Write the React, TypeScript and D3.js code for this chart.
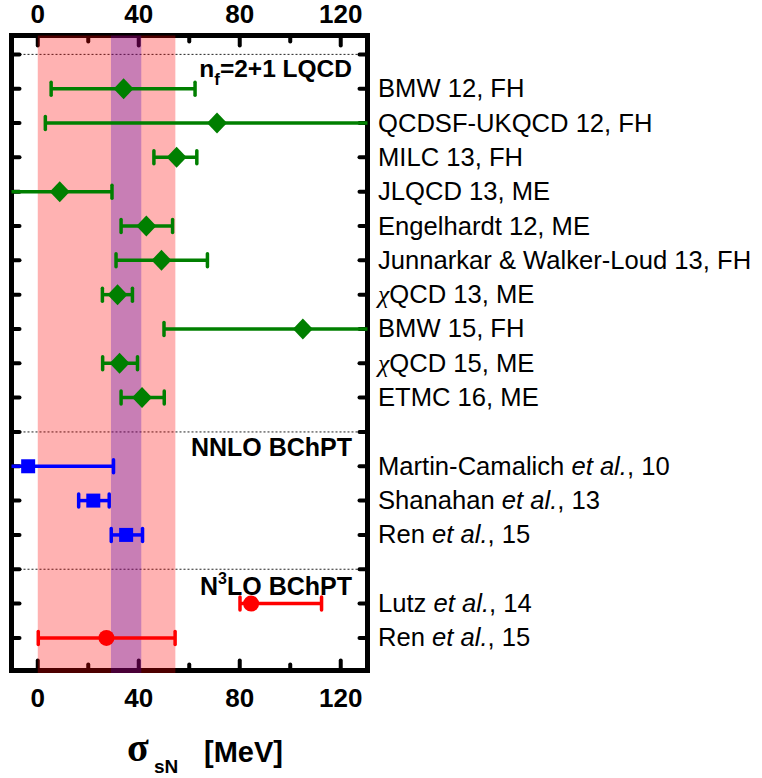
import React from "react";
import * as d3 from "d3";

// ---- data (MeV) ----
const rowLabels = [
  "BMW 12, FH",
  "QCDSF-UKQCD 12, FH",
  "MILC 13, FH",
  "JLQCD 13, ME",
  "Engelhardt 12, ME",
  "Junnarkar & Walker-Loud 13, FH",
  "χQCD 13, ME",
  "BMW 15, FH",
  "χQCD 15, ME",
  "ETMC 16, ME",
  "Martin-Camalich et al., 10",
  "Shanahan et al., 13",
  "Ren et al., 15",
  "Lutz et al., 14",
  "Ren et al., 15",
];
const rowPos = [0, 1, 2, 3, 4, 5, 6, 7, 8, 9, 11, 12, 13, 15, 16];
const centers = [34, 71, 55, 8.7, 43, 49, 31.6, 105, 32.4, 41.3, -3.8, 22, 35, 84.5, 27.2];
const lows = [5.3, 3, 46, -13, 33, 31, 25.6, 50, 25.7, 33, -38, 16.2, 29.1, 80.1, 0.2];
const highs = [62.3, 139, 63, 29.4, 53.4, 67.2, 37.5, 160, 39.5, 50.1, 30, 28.3, 41.5, 112.4, 54.4];
const groups = ["L", "L", "L", "L", "L", "L", "L", "L", "L", "L", "N", "N", "N", "N3", "N3"];

const separators = [-1, 10, 14];
const yTickPos = d3.range(-1, 17);
const xMajorTicks = [0, 40, 80, 120];
const xMinorTicks = [20, 60, 100];
const pinkBand = [0, 54.5];
const purpleBand = [29, 41];
const xDomain = [-10.4, 130.6];
const yDomain = [-1.55, 16.95];

const SANS = "'Liberation Sans', Arial, sans-serif";

const groupColor: Record<string, string> = { L: "#007f00", N: "#0000ff", N3: "#ff0000" };

function Label({ text, x, y }: { text: string; x: number; y: number }) {
  const parts: React.ReactNode[] = [];
  let rest = text;
  if (rest.startsWith("χ")) {
    parts.push(
      <tspan key="chi" fontFamily="'Liberation Serif', 'Times New Roman', serif" fontStyle="italic">
        χ
      </tspan>
    );
    rest = rest.slice(1);
  }
  const idx = rest.indexOf("et al.");
  if (idx >= 0) {
    parts.push(<tspan key="a">{rest.slice(0, idx)}</tspan>);
    parts.push(
      <tspan key="b" fontStyle="italic">
        et al.
      </tspan>
    );
    parts.push(<tspan key="c">{rest.slice(idx + 6)}</tspan>);
  } else {
    parts.push(<tspan key="d">{rest}</tspan>);
  }
  return (
    <text x={x} y={y} fontFamily={SANS} fontSize={25.6} fill="#000" style={{ whiteSpace: "pre" }}>
      {parts}
    </text>
  );
}

export default function App() {
  const W = 762;
  const H = 778;
  const x = d3.scaleLinear().domain(xDomain).range([11.5, 367.5]);
  const y = d3.scaleLinear().domain(yDomain).range([35.5, 670.5]);
  const [xl, xr] = x.range();
  const [yt, yb] = y.range();

  const diamond = (cx: number, cy: number) =>
    `M${cx},${cy - 10.5}L${cx + 10},${cy}L${cx},${cy + 10.5}L${cx - 10},${cy}Z`;

  return (
    <svg width={W} height={H} style={{ position: "absolute", left: 0, top: 0 }}>
      <rect x={0} y={0} width={W} height={H} fill="#fff" />
      {separators.map((s) => (
        <line
          key={"sep" + s}
          x1={xl}
          x2={xr}
          y1={y(s)}
          y2={y(s)}
          stroke="#222"
          strokeWidth={1}
          strokeDasharray="2,2"
        />
      ))}
      <rect x={xl} y={yt} width={xr - xl} height={yb - yt} fill="none" stroke="#000" strokeWidth={5} />
      {xMajorTicks.map((t) => (
        <g key={"xM" + t} stroke="#000" strokeWidth={4} strokeLinecap="round">
          <line x1={x(t)} x2={x(t)} y1={yt} y2={yt + 10} />
          <line x1={x(t)} x2={x(t)} y1={yb} y2={yb - 10} />
        </g>
      ))}
      {xMinorTicks.map((t) => (
        <g key={"xm" + t} stroke="#000" strokeWidth={4} strokeLinecap="round">
          <line x1={x(t)} x2={x(t)} y1={yt} y2={yt + 6} />
          <line x1={x(t)} x2={x(t)} y1={yb} y2={yb - 6} />
        </g>
      ))}
      {yTickPos.map((t) => (
        <g key={"yt" + t} stroke="#000" strokeWidth={4} strokeLinecap="round">
          <line x1={xl} x2={xl + 8} y1={y(t)} y2={y(t)} />
          <line x1={xr} x2={xr - 8} y1={y(t)} y2={y(t)} />
        </g>
      ))}
      <rect
        x={x(pinkBand[0])}
        y={yt}
        width={x(pinkBand[1]) - x(pinkBand[0])}
        height={yb + 2.5 - yt}
        fill="rgb(255,0,0)"
        fillOpacity={0.3}
      />
      <rect
        x={x(purpleBand[0])}
        y={yt}
        width={x(purpleBand[1]) - x(purpleBand[0])}
        height={yb + 2.5 - yt}
        fill="rgb(65,0,190)"
        fillOpacity={0.29}
      />
      {xMajorTicks.map((t) => (
        <g key={"xl" + t} fontFamily={SANS} fontSize={26} fontWeight="bold" textAnchor="middle">
          <text x={x(t)} y={23}>
            {t}
          </text>
          <text x={x(t)} y={707}>
            {t}
          </text>
        </g>
      ))}
      <text x={352} y={y(-1) + 22.5} fontFamily={SANS} fontSize={24.5} fontWeight="bold" textAnchor="end">
        n<tspan fontSize={17} dy={8}>f</tspan>
        <tspan dy={-8}>=2+1 LQCD</tspan>
      </text>
      <text x={352} y={y(10) + 24.5} fontFamily={SANS} fontSize={25} fontWeight="bold" textAnchor="end">
        NNLO BChPT
      </text>
      <text x={352} y={y(14) + 26} fontFamily={SANS} fontSize={25} fontWeight="bold" textAnchor="end">
        N<tspan fontSize={16} dy={-11}>3</tspan>
        <tspan dy={11}>LO BChPT</tspan>
      </text>
      {rowLabels.map((lab, i) => {
        const cy = y(rowPos[i]);
        const color = groupColor[groups[i]];
        const loC = Math.max(lows[i], xDomain[0]);
        const hiC = Math.min(highs[i], xDomain[1]);
        const cx = x(centers[i]);
        return (
          <g key={"row" + i}>
            <line x1={x(loC)} x2={x(hiC)} y1={cy} y2={cy} stroke={color} strokeWidth={3.5} />
            {lows[i] >= xDomain[0] && (
              <line
                x1={x(lows[i])}
                x2={x(lows[i])}
                y1={cy - 6.5}
                y2={cy + 6.5}
                stroke={color}
                strokeWidth={3.5}
                strokeLinecap="round"
              />
            )}
            {highs[i] <= xDomain[1] && (
              <line
                x1={x(highs[i])}
                x2={x(highs[i])}
                y1={cy - 6.5}
                y2={cy + 6.5}
                stroke={color}
                strokeWidth={3.5}
                strokeLinecap="round"
              />
            )}
            {groups[i] === "L" && <path d={diamond(cx, cy)} fill={color} />}
            {groups[i] === "N" && <rect x={cx - 7} y={cy - 7} width={14} height={14} fill={color} />}
            {groups[i] === "N3" && <circle cx={cx} cy={cy} r={8} fill={color} />}
            <Label text={lab} x={378} y={cy + 8.5} />
          </g>
        );
      })}
      <text
        x={127}
        y={761}
        fontFamily="'Liberation Serif', 'Times New Roman', serif"
        fontSize={40}
        fontWeight="bold"
      >
        σ
      </text>
      <text x={154} y={773} fontFamily={SANS} fontSize={19} fontWeight="bold">
        sN
      </text>
      <text x={204} y={762} fontFamily={SANS} fontSize={29} fontWeight="bold">
        [MeV]
      </text>
    </svg>
  );
}
